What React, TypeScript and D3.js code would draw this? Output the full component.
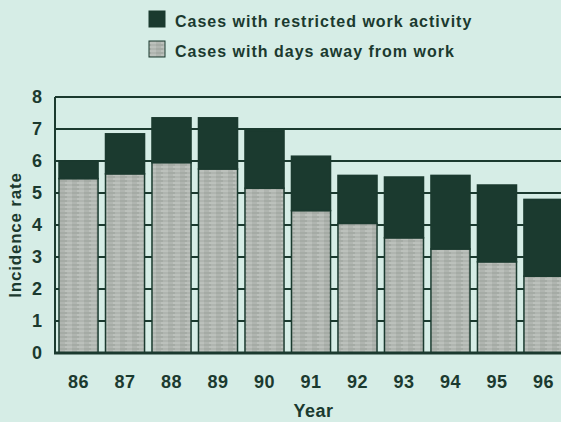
import React, { useEffect, useRef } from 'react'
import * as d3 from 'd3'

const years = ['86', '87', '88', '89', '90', '91', '92', '93', '94', '95', '96']
const daysAway = [5.45, 5.6, 5.95, 5.75, 5.15, 4.45, 4.05, 3.6, 3.25, 2.85, 2.4]
const restricted = [0.55, 1.25, 1.4, 1.6, 1.8, 1.7, 1.5, 1.9, 2.3, 2.4, 2.4]
const yTicks = [0, 1, 2, 3, 4, 5, 6, 7, 8]
const legendLabels = ['Cases with restricted work activity', 'Cases with days away from work']

const DARK = '#1b3a2f'
const LIGHT = '#b0b5b0'
const BG = '#d6ede6'

function App() {
    const ref = useRef<SVGSVGElement>(null)

    useEffect(() => {
        const svg = d3.select(ref.current)
        svg.selectAll('*').remove()
        const width = 561
        const height = 422
        const left = 55
        const top = 97
        const bottom = 353
        const right = 572

        svg.append('rect').attr('width', width).attr('height', height).attr('fill', BG)

        // texture for the light bars
        const defs = svg.append('defs')
        const pat = defs.append('pattern')
            .attr('id', 'grain')
            .attr('width', 12)
            .attr('height', 4)
            .attr('patternUnits', 'userSpaceOnUse')
        pat.append('rect').attr('width', 12).attr('height', 4).attr('fill', LIGHT)
        pat.append('line').attr('x1', 0).attr('x2', 7).attr('y1', 1).attr('y2', 1)
            .attr('stroke', '#939a94').attr('stroke-width', 0.8)
        pat.append('line').attr('x1', 5).attr('x2', 12).attr('y1', 3).attr('y2', 3)
            .attr('stroke', '#cdd2cd').attr('stroke-width', 0.8)

        const x = d3.scaleBand()
            .domain(years)
            .range([59, 563])
            .paddingInner(0.16)
            .paddingOuter(0)

        const y = d3.scaleLinear().domain([0, 8]).range([bottom, top])

        // gridlines
        svg.append('g')
            .selectAll('line')
            .data(yTicks.filter(t => t > 0))
            .enter()
            .append('line')
            .attr('x1', left)
            .attr('x2', right)
            .attr('y1', d => y(d))
            .attr('y2', d => y(d))
            .attr('stroke', DARK)
            .attr('stroke-width', 2)

        const stack = years.map((yr, i) => ({ yr, a: daysAway[i], r: restricted[i] }))

        const bars = svg.append('g')
        bars.selectAll('rect.away')
            .data(stack)
            .enter()
            .append('rect')
            .attr('class', 'away')
            .attr('x', d => x(d.yr)!)
            .attr('width', x.bandwidth())
            .attr('y', d => y(d.a))
            .attr('height', d => y(0) - y(d.a))
            .attr('fill', 'url(#grain)')
            .attr('stroke', DARK)
            .attr('stroke-width', 1.5)

        bars.selectAll('rect.restr')
            .data(stack)
            .enter()
            .append('rect')
            .attr('class', 'restr')
            .attr('x', d => x(d.yr)!)
            .attr('width', x.bandwidth())
            .attr('y', d => y(d.a + d.r))
            .attr('height', d => y(d.a) - y(d.a + d.r))
            .attr('fill', DARK)
            .attr('stroke', DARK)
            .attr('stroke-width', 1.5)

        // frame
        svg.append('line').attr('x1', left).attr('x2', left).attr('y1', top).attr('y2', bottom)
            .attr('stroke', DARK).attr('stroke-width', 2)
        svg.append('line').attr('x1', left - 1).attr('x2', right).attr('y1', bottom).attr('y2', bottom)
            .attr('stroke', DARK).attr('stroke-width', 3)

        const font = "'Liberation Sans', Arial, sans-serif"

        svg.append('g')
            .selectAll('text')
            .data(yTicks)
            .enter()
            .append('text')
            .attr('x', 37)
            .attr('y', d => y(d))
            .attr('dy', '0.35em')
            .attr('text-anchor', 'middle')
            .style('font-family', font)
            .style('font-weight', 'bold')
            .style('font-size', '18px')
            .attr('fill', DARK)
            .text(d => d)

        svg.append('g')
            .selectAll('text')
            .data(years)
            .enter()
            .append('text')
            .attr('x', d => x(d)! + x.bandwidth() / 2)
            .attr('y', 388)
            .attr('text-anchor', 'middle')
            .style('font-family', font)
            .style('font-weight', 'bold')
            .style('font-size', '18px')
            .style('letter-spacing', '0.5px')
            .attr('fill', DARK)
            .text(d => d)

        svg.append('text')
            .attr('x', (left + right) / 2)
            .attr('y', 417)
            .attr('text-anchor', 'middle')
            .style('font-family', font)
            .style('font-weight', 'bold')
            .style('font-size', '18px')
            .style('letter-spacing', '0.5px')
            .attr('fill', DARK)
            .text('Year')

        svg.append('text')
            .attr('transform', 'translate(21, 235) rotate(-90)')
            .attr('text-anchor', 'middle')
            .style('font-family', font)
            .style('font-weight', 'bold')
            .style('font-size', '17px')
            .style('letter-spacing', '0.8px')
            .attr('fill', DARK)
            .text('Incidence rate')

        // legend
        const leg = svg.append('g')
        legendLabels.forEach((lab, i) => {
            const ly = 11 + i * 30
            leg.append('rect')
                .attr('x', 149)
                .attr('y', ly)
                .attr('width', 16)
                .attr('height', 16)
                .attr('fill', i === 0 ? DARK : 'url(#grain)')
                .attr('stroke', DARK)
                .attr('stroke-width', 1)
            leg.append('text')
                .attr('x', 175)
                .attr('y', ly + 16)
                .style('font-family', font)
                .style('font-weight', 'bold')
                .style('font-size', '16px')
                .style('letter-spacing', '1px')
                .attr('fill', DARK)
                .text(lab)
        })
    }, [])

    return (
        <div>
            <style>{`body { margin: 0; }`}</style>
            <svg ref={ref} width={561} height={422} style={{ display: 'block' }}></svg>
        </div>
    )
}

export default App
